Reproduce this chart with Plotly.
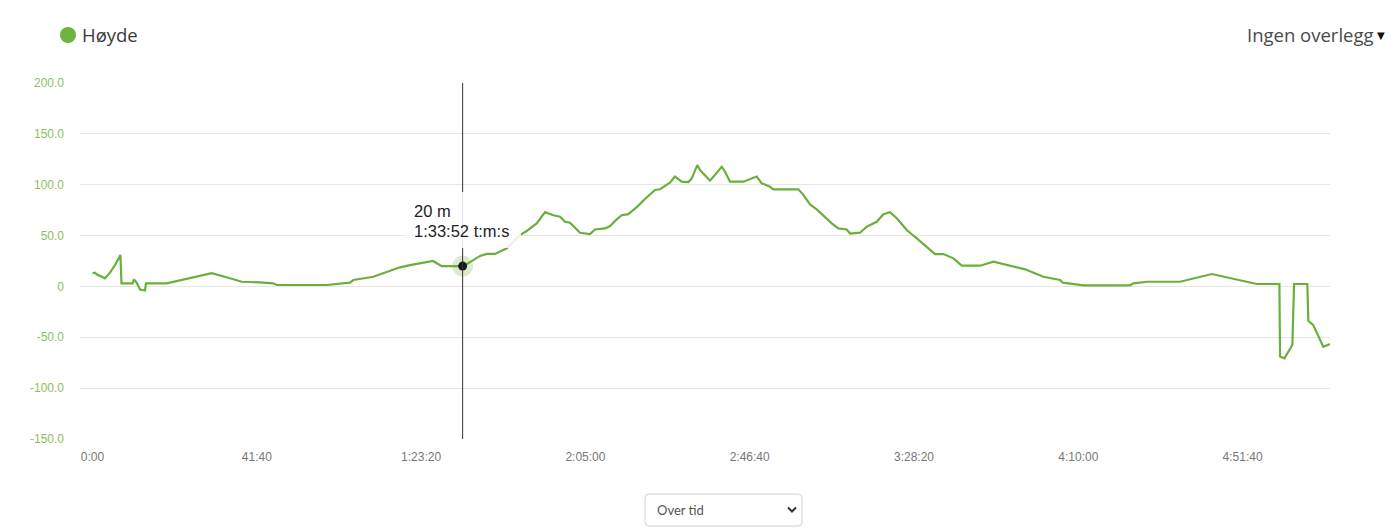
import plotly.graph_objects as go

# ---- data ----
time_s = [0, 38, 64, 190, 266, 342, 425, 441, 612, 632, 673, 723, 799, 814, 1129, 1814, 2092, 2270,
          2549, 2751, 2803, 3564, 3918, 3969, 4273, 4425, 4577, 4679, 4831, 5181, 5314, 5486, 5632,
          5714, 5897, 5999, 6125, 6303, 6505, 6607, 6759, 6886, 6962, 7012, 7114, 7190, 7266, 7316,
          7418, 7570, 7646, 7799, 7875, 7977, 8053, 8153, 8281, 8407, 8559, 8635, 8737, 8787, 8863,
          8965, 9066, 9117, 9203, 9244, 9396, 9472, 9575, 9625, 9701, 9903, 10005, 10107, 10183,
          10309, 10360, 10740, 10816, 10918, 11020, 11172, 11248, 11349, 11477, 11527, 11679, 11781,
          11933, 12034, 12136, 12238, 12390, 12542, 12694, 12821, 12947, 13099, 13227, 13505, 13708,
          13962, 14190, 14468, 14723, 14764, 15077, 15788, 15838, 16042, 16548, 17031, 17208, 17716,
          18060, 18070, 18136, 18257, 18283, 18485, 18500, 18576, 18728, 18830]
elevation_m = [13, 13.5, 12, 8, 13.5, 21, 31, 3, 3, 7, 3.6, -3, -4, 3, 3, 13, 8, 4.6,
               4, 3, 1.4, 1.4, 3.7, 6.3, 9.5, 13, 17, 18.8, 21, 25, 20, 20, 20,
               22.7, 30, 32, 32, 37.5, 50.5, 54.5, 62, 73, 71, 70, 68.5, 63.6, 62.6, 59.4,
               52.8, 51.5, 56, 57, 59.4, 66, 70, 71, 78, 86, 94.8, 95.5, 100.4, 102, 108,
               103, 102.6, 106, 119.3, 114.4, 104, 109.5, 117.7, 112.8, 103, 103, 105.6, 108, 101.4,
               98, 95.5, 95.5, 90, 80.7, 75.8, 66, 62, 57, 56, 52, 52.8, 58.7,
               63.6, 70.9, 73, 67, 55.5, 47.3, 38.4, 31.8, 31.8, 27.6, 20.4, 20.4, 24.3,
               20, 16.8, 9.5, 6.3, 3.7, 1.1, 1.1, 3, 4.6, 4.6, 12.2, 9.5, 2.4,
               2.4, -69, -70.7, -57.6, 2.4, 2.4, -33.7, -38, -59.3, -56.6]

x_tickvals = [0, 2500, 5000, 7500, 10000, 12500, 15000, 17500]
x_ticktext = ["0:00", "41:40", "1:23:20", "2:05:00", "2:46:40", "3:28:20", "4:10:00", "4:51:40"]
y_tickvals = [200, 150, 100, 50, 0, -50, -100, -150]
y_ticktext = ["200.0", "150.0", "100.0", "50.0", "0", "-50.0", "-100.0", "-150.0"]

hover_time = 5632
hover_value = 20
hover_label = ["20 m", "1:33:52 t:m:s"]

series_name = "Høyde"
overlay_label = "Ingen overlegg"
dropdown_label = "Over tid"

# ---- layout geometry (page pixels; the page body has an 8px margin) ----
OFF = 8
W, H = 1400 - OFF, 530 - OFF
L, R, T, B = 80, 1330, 83, 439

def px(xp):
    return (xp - L) / (R - L)

def py(yp):
    return (B - yp) / (B - T)

LINE = "#6aaf3c"
YLAB = "#8cbf5c"

fig = go.Figure()
fig.add_trace(go.Scatter(x=time_s, y=elevation_m, mode="lines",
                         line=dict(color=LINE, width=2.2), hoverinfo="skip", showlegend=False))
# halo + point at hovered position
fig.add_trace(go.Scatter(x=[hover_time], y=[hover_value], mode="markers",
                         marker=dict(size=21, color="rgba(106,175,60,0.25)", line=dict(width=0)),
                         hoverinfo="skip", showlegend=False))
fig.add_trace(go.Scatter(x=[hover_time], y=[hover_value], mode="markers",
                         marker=dict(size=9, color="#1a1a1a", line=dict(width=0)),
                         hoverinfo="skip", showlegend=False))

shapes = []
# crosshair
shapes.append(dict(type="line", xref="x", yref="paper", x0=hover_time, x1=hover_time, y0=0, y1=1,
                   line=dict(color="#333333", width=1), layer="above"))
# tooltip background
shapes.append(dict(type="rect", xref="paper", yref="paper", x0=px(405), x1=px(521), y0=py(192), y1=py(248),
                   fillcolor="rgba(255,255,255,0.85)", line=dict(width=0), layer="above"))
# legend circle
shapes.append(dict(type="circle", xref="paper", yref="paper", x0=px(60), x1=px(76), y0=py(43), y1=py(27),
                   fillcolor="#6db33f", line=dict(width=0)))

# rounded dropdown box
def rounded_rect(x0, y0, x1, y1, r):
    X = lambda v: px(v)
    Y = lambda v: py(v)
    return (f"M {X(x0+r)},{Y(y0)} L {X(x1-r)},{Y(y0)} Q {X(x1)},{Y(y0)} {X(x1)},{Y(y0+r)} "
            f"L {X(x1)},{Y(y1-r)} Q {X(x1)},{Y(y1)} {X(x1-r)},{Y(y1)} "
            f"L {X(x0+r)},{Y(y1)} Q {X(x0)},{Y(y1)} {X(x0)},{Y(y1-r)} "
            f"L {X(x0)},{Y(y0+r)} Q {X(x0)},{Y(y0)} {X(x0+r)},{Y(y0)} Z")

shapes.append(dict(type="path", xref="paper", yref="paper", path=rounded_rect(645, 494, 802, 526, 4),
                   fillcolor="white", line=dict(color="#d0d0d0", width=1)))
shapes.append(dict(type="path", xref="paper", yref="paper",
                   path=f"M {px(788)},{py(507.5)} L {px(792)},{py(511.5)} L {px(796)},{py(507.5)}",
                   line=dict(color="#333333", width=2)))

annotations = [
    dict(xref="paper", yref="paper", x=px(80), y=py(35), xanchor="left", yanchor="middle",
         text=series_name, showarrow=False, font=dict(family="Open Sans", size=18.5, color="#3a3a3a")),
    dict(xref="paper", yref="paper", x=px(1376), y=py(34), xanchor="right", yanchor="middle",
         text=overlay_label, showarrow=False, font=dict(family="Open Sans", size=18.5, color="#4a4a4a")),
    dict(xref="paper", yref="paper", x=px(1381), y=py(36), xanchor="center", yanchor="middle",
         text="▼", showarrow=False, font=dict(family="DejaVu Sans", size=10, color="#111111")),
    dict(xref="paper", yref="paper", x=px(412), y=py(211), xanchor="left", yanchor="middle",
         text=hover_label[0], showarrow=False, font=dict(family="Arial", size=16.5, color="#222222")),
    dict(xref="paper", yref="paper", x=px(412), y=py(231), xanchor="left", yanchor="middle",
         text=hover_label[1], showarrow=False, font=dict(family="Arial", size=16.5, color="#222222")),
    dict(xref="paper", yref="paper", x=px(655), y=py(510), xanchor="left", yanchor="middle",
         text=dropdown_label, showarrow=False, font=dict(family="Lato", size=13, color="#555555")),
]

span = (R - L)
sec_per_px = 2500 / 164.3
x_min = -(92.5 - L) * sec_per_px
x_max = x_min + span * sec_per_px

fig.update_layout(
    width=W, height=H,
    margin=dict(l=L - OFF, r=(W + OFF) - R, t=T - OFF, b=(H + OFF) - B, pad=0),
    paper_bgcolor="white", plot_bgcolor="white",
    showlegend=False,
    shapes=shapes, annotations=annotations,
    xaxis=dict(range=[x_min, x_max], tickvals=x_tickvals, ticktext=x_ticktext, showgrid=False,
               zeroline=False, showline=False, ticks="", ticklabelstandoff=9,
               tickfont=dict(family="Arial", size=12, color="#777777")),
    yaxis=dict(range=[-150, 200], tickvals=y_tickvals, ticktext=y_ticktext, showgrid=True,
               gridcolor="#e6e6e6", gridwidth=1, zeroline=False, showline=False, ticks="",
               ticklabelstandoff=15, tickfont=dict(family="Arial", size=12, color=YLAB)),
)

fig.write_html("out.html")
